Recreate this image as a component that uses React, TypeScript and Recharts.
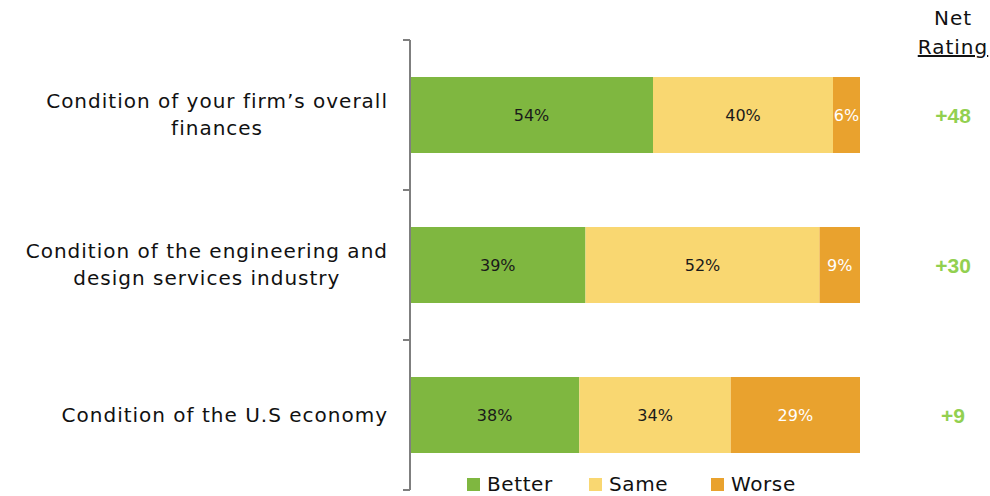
import { Bar, BarChart, LabelList, Legend, XAxis, YAxis } from 'recharts'
import { JSX } from 'react'

const questions = [
	'Condition of your firm’s overall\nfinances',
	'Condition of the engineering and\ndesign services industry',
	'Condition of the U.S economy',
]
const better = [54, 39, 38]
const same = [40, 52, 34]
const worse = [6, 9, 29]
const netRating = ['+48', '+30', '+9']

const seriesKeys = ['better', 'same', 'worse']
const seriesNames = ['Better', 'Same', 'Worse']
const seriesColors = ['#7fb740', '#f9d771', '#e9a22e']
const labelColors = ['#1a1a1a', '#1a1a1a', '#ffffff']

const rows = questions.map((q, i) => ({
	q,
	better: better[i],
	same: same[i],
	worse: worse[i],
	net: netRating[i],
}))

const FONT = '"DejaVu Sans", sans-serif'
const AXIS_GREY = '#7f7f7f'

// label block is right aligned, its lines centred; tick marks sit on the band edges
const QuestionTick = (props: any): JSX.Element => {
	const { x, y, payload } = props
	const half = payload.offset ?? 75
	const lines = String(payload.value).split('\n')
	return (
		<g>
			<line x1={x - 7} x2={x} y1={y - half} y2={y - half} stroke={AXIS_GREY} strokeWidth={2} />
			<line x1={x - 7} x2={x} y1={y + half} y2={y + half} stroke={AXIS_GREY} strokeWidth={2} />
			<foreignObject x={0} y={y - 45} width={x - 22} height={90}>
				<div style={{ display: 'flex', justifyContent: 'flex-end', alignItems: 'center', height: '100%' }}>
					<div style={{ textAlign: 'center', fontFamily: FONT, fontSize: 20, letterSpacing: 1, lineHeight: '27px', color: '#111', whiteSpace: 'nowrap' }}>
						{lines.map((l) => <div key={l}>{l}</div>)}
					</div>
				</div>
			</foreignObject>
		</g>
	)
}

const pctLabel = (color: string) => (props: any): JSX.Element => {
	const { x, y, width, height, value } = props
	return (
		<text x={x + width / 2} y={y + height / 2} fill={color} textAnchor="middle" dominantBaseline="central"
			fontFamily={FONT} fontSize={16}>
			{value}%
		</text>
	)
}

const NetLabel = (props: any): JSX.Element => {
	const { x, y, width, height, value } = props
	return (
		<text x={x + width + 93} y={y + height / 2} fill="#92d050" textAnchor="middle" dominantBaseline="central"
			fontFamily='"Liberation Sans", Arial, sans-serif' fontWeight="bold" fontSize={21}>
			{value}
		</text>
	)
}

const LegendContent = (): JSX.Element => (
	<div style={{ display: 'flex', fontFamily: FONT, fontSize: 20, letterSpacing: 0.6, color: '#111' }}>
		{seriesNames.map((n, i) => (
			<div key={n} style={{ display: 'flex', alignItems: 'center', gap: 7, width: i < seriesNames.length - 1 ? 122 : 'auto' }}>
				<span style={{ width: 13, height: 13, background: seriesColors[i], display: 'inline-block' }} />
				<span>{n}</span>
			</div>
		))}
	</div>
)

const App = (): JSX.Element => {
	return (
		<div style={{ position: 'absolute', left: 0, top: 0, width: 990, height: 496, background: '#fff' }}>
			<BarChart width={990} height={496} data={rows} layout="vertical" stackOffset="expand"
				margin={{ top: 40, right: 130, bottom: 6, left: 0 }}>
				<XAxis type="number" hide domain={[0, 1]} />
				<YAxis yAxisId="cat" type="category" dataKey="q" width={410} tickLine={false}
					axisLine={{ stroke: AXIS_GREY, strokeWidth: 2 }}
					tickSize={0} tickMargin={0} tick={QuestionTick} />
				{seriesKeys.map((k, i) => (
					<Bar key={k} yAxisId="cat" dataKey={k} name={seriesNames[i]} stackId="a" fill={seriesColors[i]}
						barSize={76} isAnimationActive={false}>
						<LabelList dataKey={k} content={pctLabel(labelColors[i])} />
						{k === 'worse' && <LabelList dataKey="net" content={NetLabel} />}
					</Bar>
				))}
				<Legend layout="horizontal" verticalAlign="middle" align="center" content={LegendContent}
					wrapperStyle={{ position: 'absolute', top: 472, left: 467, width: 'auto' }} />
			</BarChart>
			<div style={{ position: 'absolute', left: 903, width: 100, top: 4, textAlign: 'center', fontFamily: FONT,
				fontSize: 20, letterSpacing: 1, lineHeight: '29px', color: '#111' }}>
				<div>Net</div>
				<div style={{ textDecoration: 'underline' }}>Rating</div>
			</div>
		</div>
	)
}

export default App
